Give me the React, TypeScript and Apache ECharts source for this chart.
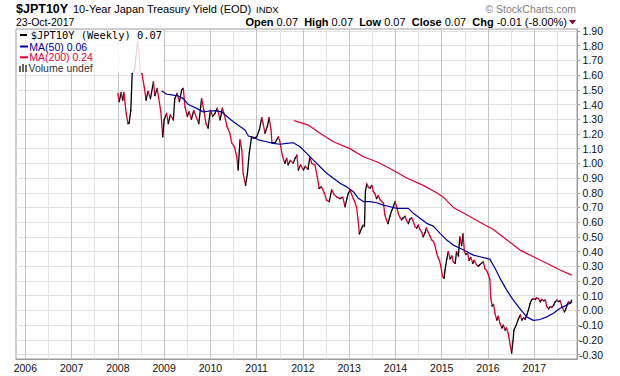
import React, { useEffect, useRef } from "react";
import * as echarts from "echarts";

// ---- tick values ----
const xYearTicks = [2006, 2007, 2008, 2009, 2010, 2011, 2012, 2013, 2014, 2015, 2016, 2017];
const xHalfYearTicks = [2006.5, 2007.5, 2008.5, 2009.5, 2010.5, 2011.5, 2012.5, 2013.5, 2014.5, 2015.5, 2016.5, 2017.5];
const yTicks = [-0.3, -0.2, -0.1, 0, 0.1, 0.2, 0.3, 0.4, 0.5, 0.6, 0.7, 0.8, 0.9, 1.0, 1.1, 1.2, 1.3, 1.4, 1.5, 1.6, 1.7, 1.8, 1.9];

// ---- $JPT10Y weekly close (dates as decimal years) ----
const priceYears = [
  2008.0, 2008.03, 2008.07, 2008.105, 2008.13, 2008.18, 2008.22, 2008.245, 2008.28, 2008.31, 2008.36, 2008.39, 2008.43, 2008.46, 2008.485, 2008.52, 2008.57, 2008.61, 2008.65, 2008.705, 2008.77, 2008.8, 2008.85, 2008.9, 2008.93, 2008.97,
  2009.0, 2009.055, 2009.09, 2009.135, 2009.2, 2009.23, 2009.28, 2009.33, 2009.38, 2009.415, 2009.45, 2009.5, 2009.54, 2009.59, 2009.64, 2009.7, 2009.75, 2009.81, 2009.86, 2009.905, 2009.95,
  2010.0, 2010.05, 2010.1, 2010.15, 2010.21, 2010.26, 2010.31, 2010.36, 2010.42, 2010.46, 2010.52, 2010.57, 2010.6, 2010.64, 2010.68, 2010.71, 2010.76, 2010.8, 2010.84, 2010.89, 2010.94,
  2011.0, 2011.06, 2011.11, 2011.14, 2011.18, 2011.23, 2011.27, 2011.31, 2011.33, 2011.4, 2011.47, 2011.5, 2011.56, 2011.61, 2011.65, 2011.68, 2011.73, 2011.79, 2011.83, 2011.87, 2011.9, 2011.95,
  2012.01, 2012.05, 2012.11, 2012.15, 2012.19, 2012.26, 2012.31, 2012.35, 2012.4, 2012.46, 2012.51, 2012.57, 2012.62, 2012.67, 2012.73, 2012.8, 2012.86, 2012.91, 2012.95, 2012.98,
  2013.02, 2013.05, 2013.09, 2013.12, 2013.16, 2013.19, 2013.22, 2013.27, 2013.3, 2013.33, 2013.35, 2013.38, 2013.41, 2013.45, 2013.49, 2013.52, 2013.56, 2013.59, 2013.63, 2013.67, 2013.74, 2013.77, 2013.81, 2013.84, 2013.88, 2013.92, 2013.95, 2013.99,
  2014.03, 2014.06, 2014.1, 2014.13, 2014.17, 2014.21, 2014.24, 2014.28, 2014.31, 2014.35, 2014.39, 2014.42, 2014.46, 2014.49, 2014.53, 2014.57, 2014.6, 2014.64, 2014.67, 2014.71, 2014.74, 2014.78, 2014.82, 2014.85, 2014.89, 2014.92, 2014.95, 2014.98,
  2015.02, 2015.05, 2015.07, 2015.11, 2015.14, 2015.18, 2015.22, 2015.25, 2015.29, 2015.32, 2015.36, 2015.39, 2015.43, 2015.46, 2015.49, 2015.52, 2015.56, 2015.59, 2015.63, 2015.67, 2015.7, 2015.75, 2015.79, 2015.82, 2015.86, 2015.9, 2015.93, 2015.97,
  2016.0, 2016.04, 2016.06, 2016.09, 2016.12, 2016.15, 2016.19, 2016.22, 2016.26, 2016.3, 2016.33, 2016.37, 2016.4, 2016.44, 2016.48, 2016.51, 2016.54, 2016.56, 2016.61, 2016.66, 2016.7, 2016.73, 2016.77, 2016.8, 2016.84, 2016.87, 2016.91, 2016.94, 2016.98,
  2017.02, 2017.05, 2017.09, 2017.13, 2017.16, 2017.2, 2017.24, 2017.27, 2017.31, 2017.34, 2017.38, 2017.42, 2017.45, 2017.49, 2017.52, 2017.56, 2017.6, 2017.65, 2017.69, 2017.71, 2017.74, 2017.78, 2017.81,
];
const priceValues = [
  1.476, 1.42, 1.48, 1.43, 1.48, 1.34, 1.27, 1.275, 1.36, 1.61, 1.635, 1.725, 1.827, 1.737, 1.62, 1.61, 1.52, 1.43, 1.49, 1.44, 1.555, 1.46, 1.51, 1.41, 1.35, 1.18,
  1.295, 1.34, 1.27, 1.33, 1.295, 1.44, 1.476, 1.42, 1.5, 1.51, 1.385, 1.32, 1.35, 1.3, 1.36, 1.31, 1.27, 1.44, 1.36, 1.27, 1.24,
  1.36, 1.32, 1.34, 1.375, 1.295, 1.375, 1.32, 1.25, 1.205, 1.14, 1.11, 1.045, 0.955, 1.16, 1.09, 0.93, 0.85, 0.93, 1.07, 1.18, 1.17,
  1.18, 1.23, 1.31, 1.27, 1.205, 1.25, 1.31, 1.23, 1.14, 1.14, 1.18, 1.15, 1.045, 1.0, 1.034, 0.99, 1.02, 1.0, 1.034, 1.056, 0.955, 0.99,
  0.955, 0.98, 0.96, 1.045, 1.0, 0.99, 0.91, 0.83, 0.84, 0.8, 0.75, 0.74, 0.82, 0.79, 0.77, 0.76, 0.77, 0.705, 0.76, 0.796,
  0.82, 0.79, 0.76, 0.74, 0.7, 0.62, 0.52, 0.56, 0.58, 0.57, 0.81, 0.86, 0.84, 0.83, 0.85, 0.81, 0.79, 0.76, 0.78, 0.75, 0.73, 0.65, 0.61, 0.59, 0.64, 0.68, 0.7, 0.74,
  0.7, 0.66, 0.63, 0.615, 0.63, 0.64, 0.61, 0.59, 0.62, 0.63, 0.6, 0.57, 0.56, 0.58, 0.55, 0.53, 0.5, 0.53, 0.56, 0.53, 0.51, 0.48, 0.47, 0.445, 0.39, 0.36, 0.34, 0.3,
  0.23, 0.218, 0.274, 0.35, 0.4, 0.35, 0.37, 0.33, 0.32, 0.4, 0.37, 0.5, 0.44, 0.52, 0.4, 0.38, 0.39, 0.34, 0.36, 0.32, 0.34, 0.31, 0.3, 0.31, 0.32, 0.33, 0.285, 0.27,
  0.25, 0.21, 0.08, 0.03, 0.04, -0.02, -0.066, -0.04, -0.09, -0.12, -0.1, -0.134, -0.12, -0.16, -0.236, -0.29, -0.21, -0.134, -0.1, -0.055, -0.03, -0.066, -0.05, -0.06, -0.03, 0.0, 0.047, 0.07, 0.08,
  0.074, 0.085, 0.08, 0.058, 0.075, 0.065, 0.07, 0.025, 0.01, 0.025, 0.02, 0.036, 0.058, 0.07, 0.06, 0.065, 0.025, -0.01, 0.014, 0.04, 0.058, 0.05, 0.07,
];

// ---- MA(50) ----
const ma50Years = [
  2008.948, 2009.056, 2009.164, 2009.307, 2009.415, 2009.523, 2009.704, 2009.847, 2009.992, 2010.1, 2010.245, 2010.353, 2010.495, 2010.64, 2010.748, 2010.82, 2010.928,
  2011.036, 2011.218, 2011.36, 2011.505, 2011.65, 2011.792, 2011.937, 2012.081, 2012.226, 2012.37, 2012.515, 2012.657, 2012.802, 2012.947, 2013.09, 2013.198, 2013.306,
  2013.451, 2013.596, 2013.738, 2013.883, 2014.028, 2014.17, 2014.278, 2014.386, 2014.53, 2014.675, 2014.818, 2014.963, 2015.108, 2015.25, 2015.395, 2015.54, 2015.683,
  2015.827, 2015.972, 2016.043, 2016.151, 2016.26, 2016.404, 2016.547, 2016.692, 2016.837, 2016.98, 2017.125, 2017.27, 2017.413, 2017.558, 2017.702, 2017.81,
];
const ma50Values = [
  1.494, 1.47, 1.465, 1.458, 1.44, 1.4, 1.374, 1.35, 1.356, 1.358, 1.35, 1.32, 1.283, 1.25, 1.227, 1.186, 1.177,
  1.16, 1.147, 1.136, 1.13, 1.136, 1.14, 1.113, 1.068, 1.022, 0.977, 0.932, 0.898, 0.864, 0.84, 0.807, 0.762, 0.74,
  0.74, 0.732, 0.716, 0.705, 0.694, 0.694, 0.694, 0.66, 0.626, 0.592, 0.573, 0.524, 0.478, 0.444, 0.422, 0.4, 0.376,
  0.365, 0.354, 0.347, 0.286, 0.218, 0.138, 0.07, 0.01, -0.044, -0.068, -0.062, -0.044, -0.02, 0.014, 0.036, 0.055,
];

// ---- MA(200) ----
const ma200Years = [
  2011.81, 2012.116, 2012.37, 2012.657, 2013.018, 2013.306, 2013.596, 2013.811, 2014.027, 2014.243, 2014.602, 2014.89, 2015.034, 2015.25, 2015.54, 2015.827,
  2016.115, 2016.404, 2016.692, 2016.98, 2017.27, 2017.558, 2017.81,
];
const ma200Values = [
  1.29, 1.26, 1.204, 1.147, 1.1, 1.045, 1.011, 0.977, 0.94, 0.9, 0.85, 0.8, 0.77, 0.7, 0.65, 0.6,
  0.55, 0.48, 0.41, 0.365, 0.32, 0.275, 0.24,
];

const RED = "#dd0033";
const NAVY = "#00009c";
const FRAME = "#9c9c9c";
const SANS = "'Liberation Sans', Arial, sans-serif";

export default function App() {
  const ref = useRef<HTMLDivElement>(null);

  useEffect(() => {
    if (!ref.current) return;
    const chart = echarts.init(ref.current, null, { renderer: "svg" });

    const segments: number[][] = [];
    for (let i = 0; i < priceYears.length - 1; i++) {
      segments.push([priceYears[i], priceValues[i], priceYears[i + 1], priceValues[i + 1]]);
    }
    const ma50 = ma50Years.map((t, i) => [t, ma50Values[i]]);
    const ma200 = ma200Years.map((t, i) => [t, ma200Values[i]]);

    const xMin = 2005.799;
    const xMax = 2017.923;

    const option: any = {
      animation: false,
      backgroundColor: "#ffffff",
      grid: {
        left: 16,
        right: 43,
        top: 29,
        bottom: 17,
        show: true,
        borderColor: FRAME,
        borderWidth: 1,
        backgroundColor: "#ffffff",
        containLabel: false,
        outerBoundsMode: "none",
      },
      xAxis: [
        {
          type: "value",
          min: xMin,
          max: xMax,
          position: "bottom",
          axisLine: { show: true, onZero: false, lineStyle: { color: FRAME, width: 1 } },
          axisTick: { show: false, customValues: xYearTicks },
          axisLabel: {
            customValues: xYearTicks,
            formatter: (v: number) => String(Math.round(v)),
            margin: 3,
            fontSize: 10.5,
            fontFamily: SANS,
            color: "#111",
          },
          splitLine: { show: true, lineStyle: { color: "#c4c4c4", width: 1 } },
        },
        {
          type: "value",
          min: xMin,
          max: xMax,
          position: "top",
          axisLine: { show: false, onZero: false },
          axisTick: { show: false, customValues: xHalfYearTicks },
          axisLabel: { show: false, customValues: xHalfYearTicks },
          splitLine: { show: true, lineStyle: { color: "#e4e4e4", width: 1 } },
        },
      ],
      yAxis: {
        type: "value",
        position: "right",
        min: -0.3306,
        max: 1.9136,
        axisLine: { show: true, onZero: false, lineStyle: { color: FRAME, width: 1 } },
        axisTick: { show: true, inside: false, length: 3, customValues: yTicks, lineStyle: { color: FRAME } },
        axisLabel: {
          customValues: yTicks,
          formatter: (v: number) => v.toFixed(2),
          align: "right",
          margin: 26,
          fontSize: 10.5,
          fontFamily: SANS,
          color: "#111",
        },
        splitLine: { show: true, lineStyle: { color: "#e2e2e2", width: 1 } },
      },
      series: [
        {
          type: "custom",
          name: "$JPT10Y",
          xAxisIndex: 0,
          yAxisIndex: 0,
          silent: true,
          z: 3,
          encode: { x: [0, 2], y: [1, 3] },
          data: segments,
          renderItem: (params: any, api: any) => {
            const p0 = api.coord([api.value(0), api.value(1)]);
            const p1 = api.coord([api.value(2), api.value(3)]);
            const up = api.value(3) >= api.value(1);
            return {
              type: "line",
              shape: { x1: p0[0], y1: p0[1], x2: p1[0], y2: p1[1] },
              style: { stroke: up ? "#000000" : RED, lineWidth: 1.3, lineCap: "round" },
            };
          },
        },
        {
          type: "line",
          name: "MA(50)",
          xAxisIndex: 0,
          data: ma50,
          showSymbol: false,
          symbol: "none",
          z: 4,
          silent: true,
          lineStyle: { color: NAVY, width: 1.2 },
        },
        {
          type: "line",
          name: "MA(200)",
          xAxisIndex: 0,
          data: ma200,
          showSymbol: false,
          symbol: "none",
          z: 4,
          silent: true,
          lineStyle: { color: RED, width: 1.2 },
        },
      ],
      graphic: [
        // header
        { type: "text", left: 16, top: 2, z: 10, style: { text: "$JPT10Y", font: `bold 12.5px ${SANS}`, fill: "#000" } },
        { type: "text", left: 73, top: 3, z: 10, style: { text: "10-Year Japan Treasury Yield (EOD)", font: `11px ${SANS}`, fill: "#000" } },
        { type: "text", left: 256, top: 4.5, z: 10, style: { text: "INDX", font: `9.5px ${SANS}`, fill: "#000" } },
        { type: "text", left: 16, top: 16.5, z: 10, style: { text: "23-Oct-2017", font: `10.5px ${SANS}`, fill: "#000" } },
        {
          type: "text",
          right: 53,
          top: 16,
          z: 10,
          style: {
            text: "{b|Open} {v|0.07}  {b|High} {v|0.07}  {b|Low} {v|0.07}  {b|Close} {v|0.07}  {b|Chg} {v|-0.01 (-8.00%)}",
            font: `11px ${SANS}`,
            fill: "#000",
            rich: {
              b: { fontWeight: "bold", fontSize: 11, fontFamily: SANS, fill: "#000" },
              v: { fontSize: 11, fontFamily: SANS, fill: "#000" },
            },
          },
        },
        { type: "polygon", z: 10, shape: { points: [[569, 20], [576, 20], [572.5, 24.5]] }, style: { fill: "#8b0030" } },
        { type: "text", right: 44, top: 3, z: 10, style: { text: "\u00a9 StockCharts.com", font: `10.5px ${SANS}`, fill: "#808080" } },
        // legend
        { type: "rect", z: 9, shape: { x: 17, y: 30, width: 146, height: 43 }, style: { fill: "rgba(255,255,255,0.85)" } },
        { type: "line", z: 10, shape: { x1: 20, y1: 35, x2: 27, y2: 35 }, style: { stroke: "#000", lineWidth: 2 } },
        { type: "text", z: 10, x: 30.7, y: 35, style: { text: "$JPT10Y (Weekly) 0.07", font: `10.4px 'DejaVu Sans Mono', monospace`, fill: "#000", verticalAlign: "middle" } },
        { type: "line", z: 10, shape: { x1: 20, y1: 46.5, x2: 28, y2: 46.5 }, style: { stroke: NAVY, lineWidth: 2 } },
        { type: "text", z: 10, x: 29.3, y: 46.5, style: { text: "MA(50) 0.06", font: `10.5px ${SANS}`, fill: NAVY, verticalAlign: "middle" } },
        { type: "line", z: 10, shape: { x1: 20, y1: 57.3, x2: 28, y2: 57.3 }, style: { stroke: RED, lineWidth: 2 } },
        { type: "text", z: 10, x: 29.3, y: 57.3, style: { text: "MA(200) 0.24", font: `10.5px ${SANS}`, fill: RED, verticalAlign: "middle" } },
        { type: "rect", z: 10, shape: { x: 19, y: 66, width: 2, height: 6 }, style: { fill: "#666" } },
        { type: "rect", z: 10, shape: { x: 22, y: 64, width: 2, height: 8 }, style: { fill: "#666" } },
        { type: "rect", z: 10, shape: { x: 25, y: 65, width: 2, height: 7 }, style: { fill: "#666" } },
        { type: "text", z: 10, x: 28.5, y: 67.8, style: { text: "Volume undef", font: `10.5px ${SANS}`, fill: "#333", verticalAlign: "middle" } },
      ],
    };

    chart.setOption(option);
    return () => chart.dispose();
  }, []);

  return <div ref={ref} style={{ position: "absolute", left: 0, top: 0, width: 620, height: 376 }} />;
}
